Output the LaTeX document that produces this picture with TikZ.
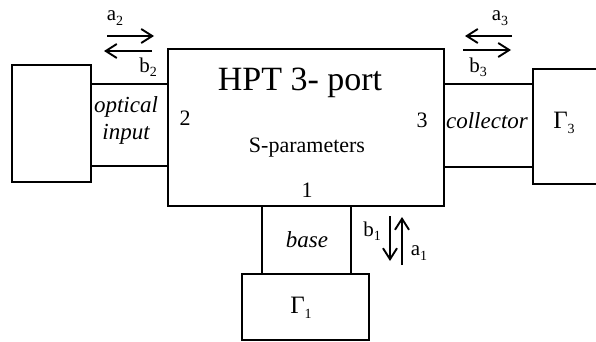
\documentclass[tikz,border=0pt]{standalone}
\usepackage{fontspec}
\setmainfont{Liberation Serif}
\usetikzlibrary{arrows.meta}
\newcommand{\lbl}[2]{#1\raisebox{-0.45ex}{\fontsize{14}{16}\selectfont #2}}
\begin{document}
\begin{tikzpicture}[x=1pt,y=-1pt,
  box/.style={draw, line width=1.8pt, rectangle, inner sep=0pt},
  conn/.style={line width=1.8pt},
  flow/.style={line width=1.9pt, -{Straight Barb[length=11pt,width=14pt,line width=1.9pt]}},
  txt/.style={font=\fontsize{22}{27}\selectfont, inner sep=0pt},
  itxt/.style={font=\fontsize{23}{27}\selectfont\itshape, inner sep=0pt, align=center},
  lab/.style={font=\fontsize{21}{24}\selectfont, inner sep=0pt}]
\useasboundingbox (0,0) rectangle (596,342);
\clip (0,0) rectangle (596,342);
% boxes
\node[box, minimum width=276pt, minimum height=157pt] (main) at (306,127.5) {};
\node[box, minimum width=79pt, minimum height=117pt] (lbox) at (51.5,123.5) {};
\node[box, line width=2.6pt, minimum width=100pt, minimum height=115pt] (rbox) at (583,126.5) {};
\node[box, minimum width=127pt, minimum height=66pt] (gbox) at (305.5,307) {};
% connecting lines
\draw[conn] (main.west |- 0,84) -- (lbox.east |- 0,84);
\draw[conn] (main.west |- 0,166) -- (lbox.east |- 0,166);
\draw[conn] (main.east |- 0,84) -- (rbox.west |- 0,84);
\draw[conn] (main.east |- 0,167) -- (rbox.west |- 0,167);
\draw[conn] (main.south -| 262,0) -- (gbox.north -| 262,0);
\draw[conn] (main.south -| 351,0) -- (gbox.north -| 351,0);
% texts
\node[inner sep=0pt, font=\fontsize{34}{40}\selectfont] (title) at (300,83) {HPT 3- port};
\node[txt] (spar) at (307,148) {S-parameters};
\node[txt] (p2) at (185,118) {2};
\node[txt] (p3) at (422,120) {3};
\node[txt] (p1) at (307,190) {1};
\node[itxt] (opt) at (126,120) {optical\\input};
\node[itxt] (col) at (487,121) {collector};
\node[itxt] (base) at (307,240) {base};
\node[txt, font=\fontsize{25}{28}\selectfont] (g1) at (301,308) {\lbl{Γ}{1}};
\node[txt, font=\fontsize{25}{28}\selectfont] (g3) at (564,123) {\lbl{Γ}{3}};
% wave arrows
\coordinate (a2s) at (107,36); \coordinate (a2e) at (154,36);
\coordinate (b2s) at (152,51); \coordinate (b2e) at (104,51);
\coordinate (a3s) at (512,36); \coordinate (a3e) at (465,36);
\coordinate (b3s) at (463,50); \coordinate (b3e) at (511,50);
\coordinate (b1s) at (390,216); \coordinate (b1e) at (390,261);
\coordinate (a1s) at (402,265); \coordinate (a1e) at (402,217);
\draw[flow] (a2s) -- (a2e);
\draw[flow] (b2s) -- (b2e);
\draw[flow] (a3s) -- (a3e);
\draw[flow] (b3s) -- (b3e);
\draw[flow] (b1s) -- (b1e);
\draw[flow] (a1s) -- (a1e);
\node[lab] (la2) at (115,18) {\lbl{a}{2}};
\node[lab] (lb2) at (148,67) {\lbl{b}{2}};
\node[lab] (la3) at (500,18) {\lbl{a}{3}};
\node[lab] (lb3) at (478,67) {\lbl{b}{3}};
\node[lab] (lb1) at (372,231) {\lbl{b}{1}};
\node[lab] (la1) at (419,253) {\lbl{a}{1}};
\end{tikzpicture}
\end{document}
